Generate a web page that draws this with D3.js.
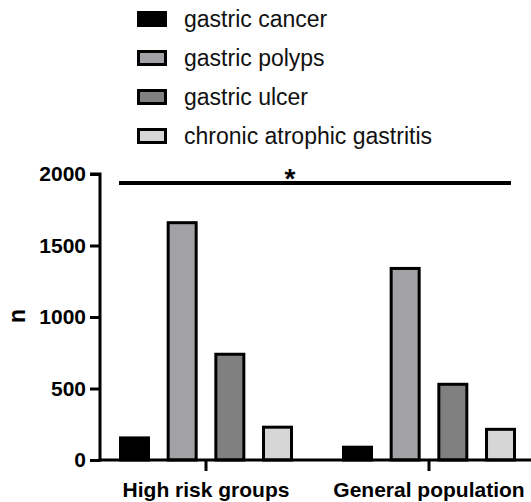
<!DOCTYPE html>
<html>
<head>
<meta charset="utf-8">
<script src="https://cdn.jsdelivr.net/npm/d3@7"></script>
<style>
  html, body { margin: 0; padding: 0; background: #fff; }
  svg { display: block; }
</style>
</head>
<body>
<svg id="chart" width="531" height="502"></svg>
<script>
// Groups on the x axis
const groups = ["High risk groups", "General population"];
// Disease categories (one bar per category in each group)
const diseases = ["gastric cancer", "gastric polyps", "gastric ulcer", "chronic atrophic gastritis"];
// Counts per group, in disease order
const highRisk = [165, 1670, 750, 240];
const generalPop = [100, 1350, 540, 225];
// Fill for each disease
const fills = ["#000000", "#a2a2a6", "#808080", "#d6d6d6"];
// Y axis ticks
const yTicks = [0, 500, 1000, 1500, 2000];

const svg = d3.select("#chart");
const values = [highRisk, generalPop];
const font = "Liberation Sans, Arial, sans-serif";

const y = d3.scaleLinear().domain([0, 2000]).range([460, 174]);
const x0 = d3.scaleBand().domain(groups).range([94.5, 540.5]).padding(0);
const clusterW = 174;
const x1 = d3.scaleBand().domain(diseases).range([0, clusterW]).paddingInner(0.35).paddingOuter(0);
const sw = 3;

// Bars (stroke drawn inside the band so outer edges sit on the band)
const g = svg.append("g");
groups.forEach((grp, gi) => {
  const left = x0(grp) + (x0.bandwidth() - clusterW) / 2;
  g.selectAll(null)
    .data(values[gi])
    .enter()
    .append("rect")
    .attr("x", (d, i) => left + x1(diseases[i]) + sw / 2)
    .attr("y", d => y(d) + sw / 2)
    .attr("width", x1.bandwidth() - sw)
    .attr("height", d => y(0) - y(d) - sw / 2)
    .attr("fill", (d, i) => fills[i])
    .attr("stroke", "#000")
    .attr("stroke-width", sw);
});

// Y axis
const yAxis = d3.axisLeft(y).tickValues(yTicks).tickFormat(d3.format("d")).tickSize(10).tickPadding(4);
const ya = svg.append("g").attr("transform", "translate(100,0)").call(yAxis);
ya.select(".domain").attr("stroke-width", 3).attr("d", "M-10,174H0V461.5");
ya.selectAll(".tick line").attr("stroke-width", 3);
ya.selectAll(".tick text")
  .attr("font-family", font)
  .attr("font-weight", "bold")
  .attr("font-size", 21)
  .attr("fill", "#000");

// X axis
const xAxis = d3.axisBottom(x0).tickSize(11).tickPadding(11);
const xa = svg.append("g").attr("transform", "translate(0,460)").call(xAxis);
xa.select(".domain").attr("stroke-width", 3).attr("d", "M98.5,0H531");
xa.selectAll(".tick line").attr("stroke-width", 3);
xa.selectAll(".tick text")
  .attr("font-family", font)
  .attr("font-weight", "bold")
  .attr("font-size", 21)
  .attr("fill", "#000");

// Y axis title
svg.append("text")
  .attr("transform", "translate(25,316) rotate(-90)")
  .attr("text-anchor", "middle")
  .attr("font-family", font)
  .attr("font-weight", "bold")
  .attr("font-size", 23)
  .text("n");

// Significance bar across both groups
svg.append("line")
  .attr("x1", 119).attr("x2", 511)
  .attr("y1", 183).attr("y2", 183)
  .attr("stroke", "#000").attr("stroke-width", 4);
svg.append("text")
  .attr("x", 290).attr("y", 188)
  .attr("text-anchor", "middle")
  .attr("font-family", font)
  .attr("font-weight", "bold")
  .attr("font-size", 28)
  .text("*");

// Legend
const legend = svg.append("g");
diseases.forEach((name, i) => {
  const cy = 19 + i * 39;
  legend.append("rect")
    .attr("x", 138.5).attr("y", cy - 6.5)
    .attr("width", 27).attr("height", 13)
    .attr("fill", fills[i])
    .attr("stroke", "#000").attr("stroke-width", 3);
  legend.append("text")
    .attr("x", 184).attr("y", cy + 8)
    .attr("font-family", font)
    .attr("font-size", 23)
    .attr("fill", "#111")
    .text(name);
});
</script>
</body>
</html>
